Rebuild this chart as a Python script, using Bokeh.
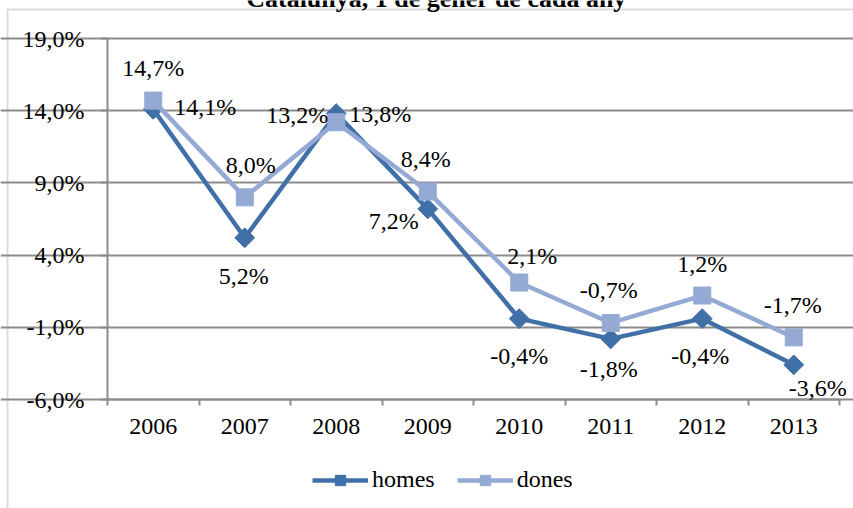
from bokeh.plotting import figure
from bokeh.models import (ColumnDataSource, Range1d, FixedTicker,
                          CustomJSTickFormatter, LabelSet, Legend, LegendItem, BoxAnnotation, Label)
from bokeh.core.properties import value
from bokeh.embed import file_html
from bokeh.resources import INLINE

# ---------------- data ----------------
years = ["2006", "2007", "2008", "2009", "2010", "2011", "2012", "2013"]
homes = [14.1, 5.2, 13.8, 7.2, -0.4, -1.8, -0.4, -3.6]
dones = [14.7, 8.0, 13.2, 8.4, 2.1, -0.7, 1.2, -1.7]
y_ticks = [-6, -1, 4, 9, 14, 19]
y_tick_labels = ["-6,0%", "-1,0%", "4,0%", "9,0%", "14,0%", "19,0%"]
title_text = "Catalunya, 1 de gener de cada any"
series_names = ["homes", "dones"]

# label placement (screen px, +x right, +y down)
homes_dx = [52, -1, 44, -34, 0, -2, -2, 24]
homes_dy = [-2, 38, 0, 12, 37, 30, 37, 23]
dones_dx = [0, 6, -39, -2, 13, -2, 0, -1]
dones_dy = [-33, -32, -7, -33, -27, -33, -32, -32]

FONT = "Liberation Serif"
FS = "24px"
GRID = "#8c8c8c"
C_HOMES = "#4070A8"
C_DONES = "#94AAD4"

# layout (canvas px): the frame fills the canvas, axes sit at fixed positions inside it
W, H = 853, 508
PLOT_L, PLOT_R, PLOT_T, PLOT_B = 107, 839, 38, 399
BORDER_X, BORDER_Y = 7, 9
TITLE_X, TITLE_BASE = 436, -2
LEGEND_X, LEGEND_BOTTOM = 312, 493


def pct(v):
    return f"{v:.1f}".replace(".", ",") + "%"


n = len(years)
slot = [i + 0.5 for i in range(n)]
ppx = (PLOT_R - PLOT_L) / n                          # px per slot
ppy = (PLOT_B - PLOT_T) / (y_ticks[-1] - y_ticks[0])  # px per percentage point
x_start, x_end = -PLOT_L / ppx, (W - PLOT_L) / ppx
y_end = y_ticks[-1] + PLOT_T / ppy
y_start = y_ticks[0] - (H - PLOT_B) / ppy


def cx(px):
    return x_start + px / ppx


def cy(py):
    return y_end - py / ppy


src = ColumnDataSource(dict(
    slot=slot, year=years, homes=homes, dones=dones,
    homes_lbl=[pct(v) for v in homes], dones_lbl=[pct(v) for v in dones],
    homes_dx=homes_dx, homes_dy=[-d for d in homes_dy],
    dones_dx=dones_dx, dones_dy=[-d for d in dones_dy],
))

p = figure(width=W, height=H,
           x_range=Range1d(x_start, x_end), y_range=Range1d(y_start, y_end),
           output_backend="svg", toolbar_location=None,
           min_border_left=0, min_border_right=0, min_border_top=0, min_border_bottom=0)
p.outline_line_color = None
p.background_fill_color = "white"
p.border_fill_color = "white"
p.xgrid.visible = False

# y axis
yaxis = p.yaxis[0]
yaxis.fixed_location = 0
yaxis.bounds = (y_ticks[0], y_ticks[-1])
yaxis.ticker = FixedTicker(ticks=y_ticks)
yaxis.formatter = CustomJSTickFormatter(args=dict(tvals=y_ticks, tlabs=y_tick_labels),
                                        code="const i = tvals.indexOf(tick); return i >= 0 ? tlabs[i] : '';")
yaxis.major_tick_out = 7
yaxis.major_tick_in = 0
yaxis.minor_tick_line_color = None
yaxis.major_tick_line_color = GRID
yaxis.major_tick_line_width = 2
yaxis.axis_line_color = GRID
yaxis.axis_line_width = 2
yaxis.major_label_standoff = 16
yaxis.major_label_text_font = FONT
yaxis.major_label_text_font_size = FS
yaxis.major_label_text_color = "black"
p.ygrid.grid_line_color = GRID
p.ygrid.grid_line_width = 2
p.ygrid.bounds = (0, n)

# x axis: labels centred in slots, tick marks between slots
xaxis = p.xaxis[0]
xaxis.fixed_location = y_ticks[0]
xaxis.bounds = (0, n)
xaxis.ticker = FixedTicker(ticks=slot, minor_ticks=list(range(n + 1)))
xaxis.formatter = CustomJSTickFormatter(args=dict(ylabs=years),
                                        code="return ylabs[Math.floor(tick)];")
xaxis.major_tick_line_color = None
xaxis.major_tick_out = 6
xaxis.major_tick_in = 0
xaxis.minor_tick_out = 6
xaxis.minor_tick_in = 0
xaxis.minor_tick_line_color = GRID
xaxis.minor_tick_line_width = 2
xaxis.axis_line_color = GRID
xaxis.axis_line_width = 2
xaxis.major_label_standoff = 13
xaxis.major_label_text_font = FONT
xaxis.major_label_text_font_size = FS
xaxis.major_label_text_color = "black"

# series
hl = p.line("slot", "homes", source=src, line_color=C_HOMES, line_width=4.5, line_join="round")
hs = p.scatter("slot", "homes", source=src, marker="square", angle=0.7854, size=14,
               fill_color=C_HOMES, line_color=C_HOMES)
dl = p.line("slot", "dones", source=src, line_color=C_DONES, line_width=4.5, line_join="round")
ds = p.scatter("slot", "dones", source=src, marker="square", size=17,
               fill_color=C_DONES, line_color=C_DONES)

for name in series_names:
    p.add_layout(LabelSet(x="slot", y=name, text=f"{name}_lbl", source=src,
                          x_offset=f"{name}_dx", y_offset=f"{name}_dy",
                          text_align="center", text_baseline="middle",
                          text_font=value(FONT), text_font_size=FS, text_color="black"))

legend = Legend(items=[LegendItem(label=series_names[0], renderers=[hl, hs]),
                       LegendItem(label=series_names[1], renderers=[dl, ds])],
                orientation="horizontal", location=(LEGEND_X, H - LEGEND_BOTTOM),
                label_text_font=FONT, label_text_font_size=FS, label_text_color="black",
                glyph_width=56, glyph_height=26, spacing=22, label_standoff=4,
                padding=0, margin=0, border_line_color=None, background_fill_alpha=0)
p.add_layout(legend)

# chart-area border (left / top) and cut-off title
p.add_layout(BoxAnnotation(left=cx(BORDER_X), right=cx(W + 20), top=cy(BORDER_Y), bottom=cy(H + 20),
                           fill_alpha=0, line_color=GRID, line_width=2))
p.add_layout(Label(x=cx(TITLE_X), y=cy(TITLE_BASE), text=title_text,
                   text_align="center", text_baseline="alphabetic", text_font=FONT,
                   text_font_size="26px", text_font_style="bold", text_color="black"))

open("out.html", "w").write(file_html(p, INLINE))
